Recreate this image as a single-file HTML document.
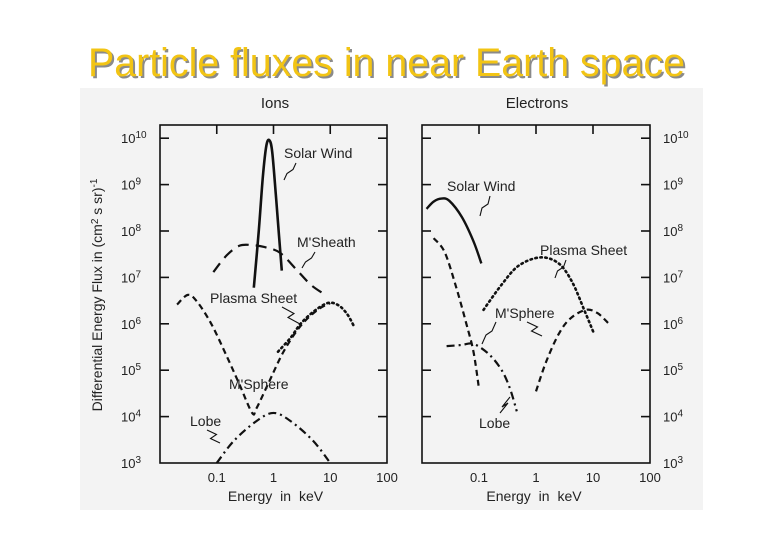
<!DOCTYPE html>
<html><head><meta charset="utf-8"><style>
html,body{margin:0;padding:0;background:#fff;}
svg{display:block;font-family:"Liberation Sans",sans-serif;}
</style></head><body>
<svg id="c" width="780" height="540" viewBox="0 0 780 540">
<rect x="0" y="0" width="780" height="540" fill="#fff"/>
<text x="90" y="78" font-size="40" fill="#8a8a8a" textLength="597" lengthAdjust="spacingAndGlyphs">Particle fluxes in near Earth space</text>
<text x="88" y="76" font-size="40" fill="#f2c414" textLength="597" lengthAdjust="spacingAndGlyphs">Particle fluxes in near Earth space</text>
<rect x="80" y="88" width="623" height="422" fill="#f3f3f3"/>
<g id="g"></g>
</svg>
<script>
// Ions data: [energy keV, flux]
const ionSolarWind = [[0.45,6e6],[0.55,1e8],[0.65,1.5e9],[0.75,7e9],[0.85,9e9],[0.95,5e9],[1.1,6e8],[1.25,8e7],[1.4,1.4e7]];
const ionSheath = [[0.087,1.3e7],[0.15,3e7],[0.25,4.8e7],[0.4,5e7],[0.7,4.5e7],[1.3,3.4e7],[2.5,1.5e7],[4.5,7e6],[7.5,4.5e6]];
const ionPlasma = [[1.2,2.5e5],[2,5e5],[3,1e6],[5,1.8e6],[9,2.8e6],[14,2.5e6],[20,1.6e6],[26,9e5]];
const ionSphere = [[0.02,2.6e6],[0.031,4.2e6],[0.045,3e6],[0.08,1e6],[0.15,2e5],[0.25,5e4],[0.42,1.2e4],[0.5,1.5e4],[0.8,5e4],[1.5,2.5e5],[3,9e5],[6,2e6],[10,2.8e6]];
const ionLobe = [[0.1,1e3],[0.2,3e3],[0.5,8e3],[1,1.2e4],[2,8e3],[5,3e3],[10,1e3]];
// Electrons data
const eSolarWind = [[0.012,3e8],[0.016,4.3e8],[0.022,5e8],[0.03,4.5e8],[0.05,2e8],[0.08,6e7],[0.11,2e7]];
const eSphereLow = [[0.016,7e7],[0.025,3.5e7],[0.04,6e6],[0.06,1e6],[0.08,2.5e5],[0.1,4e4]];
const ePlasma = [[0.12,2e6],[0.25,7e6],[0.5,1.8e7],[1.2,2.7e7],[2.5,2e7],[4.3,8e6],[7,2e6],[10.5,6e5]];
const eSphereHigh = [[1,3.5e4],[1.5,1.5e5],[2.5,6e5],[4,1.3e6],[7.5,2e6],[12,1.7e6],[19,1e6]];
const eLobe = [[0.027,3.3e5],[0.05,3.5e5],[0.08,3.7e5],[0.15,2.2e5],[0.25,1e5],[0.35,4e4],[0.46,1.3e4]];
const xTicks = ["0.1","1","10","100"];
const yExps = [3,4,5,6,7,8,9,10];

const NS="http://www.w3.org/2000/svg";
const g=document.getElementById('g');
function mk(t,a,p){const e=document.createElementNS(NS,t);for(const k in a)e.setAttribute(k,a[k]);(p||g).appendChild(e);return e;}
const Y0=463, DEC=46.4;
function yS(v){return Y0-(Math.log10(v)-3)*DEC;}
const panels=[{x0:160,x1:387,dec:56.75,name:'ions'},{x0:422,x1:650,dec:57,name:'electrons'}];
function xS(p,v){return p.x0+(Math.log10(v)+2)*p.dec;}

panels.forEach((p,i)=>{
  const fr=mk('rect',{x:p.x0,y:125,width:p.x1-p.x0,height:338,fill:'none',stroke:'#111','stroke-width':1.6});
  
  
  yExps.forEach(e=>{
    const y=yS(Math.pow(10,e));
    if(e>3){
      const t1=mk('line',{x1:p.x0,x2:p.x0+9,y1:y,y2:y,stroke:'#111','stroke-width':1.6});
      
      
      const t2=mk('line',{x1:p.x1-9,x2:p.x1,y1:y,y2:y,stroke:'#111','stroke-width':1.6});
      
      
    }
    const tx = i==0 ? 121 : 663;
    const lab=mk('text',{x:tx,y:y+5,'font-size':13,fill:'#222'});
    
    
    lab.textContent='10';
    const sup=mk('tspan',{dy:-5,'font-size':10},lab);
    sup.textContent=String(e);
  });
  xTicks.forEach(t=>{
    const x=xS(p,parseFloat(t));
    if(parseFloat(t)<100){
      const tk=mk('line',{x1:x,x2:x,y1:125,y2:134,stroke:'#111','stroke-width':1.6});
      
      
    }
    const lab=mk('text',{x:x,y:482,'font-size':13,fill:'#222','text-anchor':'middle'});
    
    
    lab.textContent=t;
  });
  const xt=mk('text',{x:(p.x0+p.x1)/2+(i?-2:2),y:501,'font-size':14,fill:'#222','text-anchor':'middle','word-spacing':4});
  
  
  xt.textContent='Energy in keV';
  const pt=mk('text',{x:i?537:275,y:108,'font-size':15,fill:'#222','text-anchor':'middle'});
  
  
  pt.textContent=i?'Electrons':'Ions';
});

const yt=mk('text',{x:0,y:0,'font-size':14,fill:'#222','text-anchor':'middle',transform:'translate(102,295) rotate(-90)'});


yt.textContent='Differential Energy Flux in (cm';
const s1=mk('tspan',{dy:-4,'font-size':10},yt);s1.textContent='2';
const s2=mk('tspan',{dy:4},yt);s2.textContent=' s sr)';
const s3=mk('tspan',{dy:-5,'font-size':10},yt);s3.textContent='-1';

function curve(p,data,dash,w,name){
  const pts=data.map(d=>[xS(p,d[0]),yS(d[1])]);
  let dstr='M'+pts[0][0]+','+pts[0][1];
  for(let i=1;i<pts.length;i++){
    const p0=pts[Math.max(0,i-2)],p1=pts[i-1],p2=pts[i],p3=pts[Math.min(pts.length-1,i+1)];
    const c1=[p1[0]+(p2[0]-p0[0])/6,p1[1]+(p2[1]-p0[1])/6];
    const c2=[p2[0]-(p3[0]-p1[0])/6,p2[1]-(p3[1]-p1[1])/6];
    dstr+=' C'+c1+' '+c2+' '+p2;
  }
  const a={d:dstr,fill:'none',stroke:'#111','stroke-width':w};
  if(dash)a['stroke-dasharray']=dash;
  if(dash==='1.5 3.5')a['stroke-linecap']='round';
  const e=mk('path',a);
  
  
}
const L=panels[0],R=panels[1];
curve(L,ionSolarWind,null,2.6,'ion-solar-wind-curve');
curve(L,ionSheath,'11 7',2.2,'ion-magnetosheath-curve');
curve(L,ionPlasma,'1.5 3.5',2.6,'ion-plasma-sheet-curve');
curve(L,ionSphere,'6 4',2.2,'ion-magnetosphere-curve');
curve(L,ionLobe,'8 4 2 4',2.2,'ion-lobe-curve');
curve(R,eSolarWind,null,2.4,'electron-solar-wind-curve');
curve(R,eSphereLow,'6 4',2.2,'electron-magnetosphere-low-curve');
curve(R,ePlasma,'1.5 3.5',2.6,'electron-plasma-sheet-curve');
curve(R,eSphereHigh,'6 4',2.2,'electron-magnetosphere-high-curve');
curve(R,eLobe,'8 4 2 4',2.2,'electron-lobe-curve');

const labels=[[284,158,'Solar Wind','ion-solar-wind-label'],[297,247,"M'Sheath",'ion-magnetosheath-label'],[210,303,'Plasma Sheet','ion-plasma-sheet-label'],[229,389,"M'Sphere",'ion-magnetosphere-label'],[190,426,'Lobe','ion-lobe-label'],
[447,191,'Solar Wind','electron-solar-wind-label'],[540,255,'Plasma Sheet','electron-plasma-sheet-label'],[495,318,"M'Sphere",'electron-magnetosphere-label'],[479,428,'Lobe','electron-lobe-label']];
labels.forEach(l=>{
  const t=mk('text',{x:l[0],y:l[1],'font-size':14,fill:'#222'});
  
  
  t.textContent=l[2];
});
const arrows=[[296,163,284,180],[315,252,302,268],[282,307,300,324],[490,196,480,216],[566,260,555,278],[496,322,482,344],[527,322,542,336],[500,413,510,397],[207,430,220,443]];
arrows.forEach(a=>{
  const mx=(a[0]+a[2])/2,my=(a[1]+a[3])/2;
  const e=mk('path',{d:`M${a[0]},${a[1]} L${mx+3},${my-2} L${mx-3},${my+2} L${a[2]},${a[3]}`,fill:'none',stroke:'#111','stroke-width':1.1});
  
  
});
</script>
</body></html>
